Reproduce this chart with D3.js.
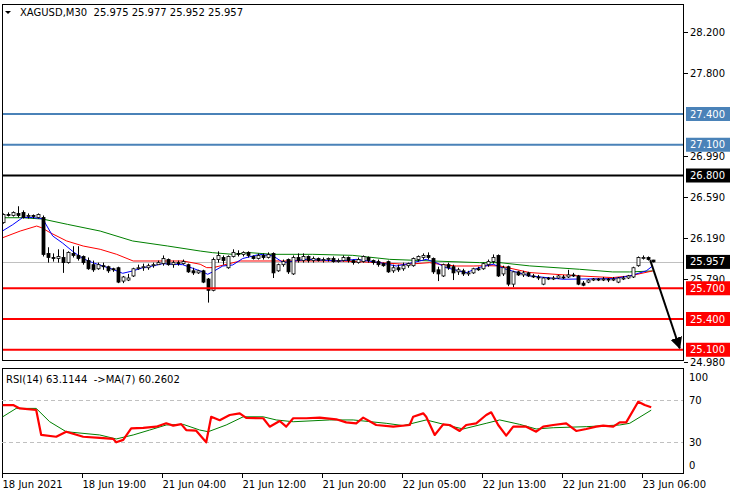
<!DOCTYPE html>
<html><head><meta charset="utf-8">
<script src="https://cdn.jsdelivr.net/npm/d3@7/dist/d3.min.js"></script>
<style>
body{margin:0;background:#fff;}
svg{display:block;font-family:"DejaVu Sans",sans-serif;font-size:10px;}
</style>
</head><body>
<svg id="chart" width="739" height="495"></svg>
<script>
// ---------------- DATA ----------------
const symbolTitle = "XAGUSD,M30";
const lastBar = [25.975, 25.977, 25.952, 25.957];

const opens = [26.34,26.42,26.41,26.43,26.44,26.40,26.41,26.39,26.39,26.04,
26.00,25.99,26.00,25.95,26.04,26.02,26.01,25.97,25.93,25.89,
25.92,25.91,25.89,25.90,25.77,25.78,25.82,25.89,25.90,25.90,
25.92,25.93,25.94,25.98,25.93,25.95,25.94,25.93,25.87,25.85,
25.87,25.79,25.68,25.98,26.00,25.90,26.01,26.04,26.03,26.05,
26.01,25.99,26.02,26.00,26.04,25.87,25.93,25.98,25.84,26.00,
25.97,26.01,25.97,25.99,25.97,25.98,25.99,25.96,25.97,26.00,
25.97,25.95,25.96,26.00,25.97,25.96,25.94,25.96,25.87,25.90,
25.89,25.92,25.92,25.98,26.00,26.02,25.99,25.88,25.82,25.93,
25.91,25.86,25.87,25.84,25.85,25.89,25.89,25.93,25.96,26.02,
25.84,25.91,25.74,25.86,25.83,25.85,25.82,25.81,25.74,25.80,
25.79,25.80,25.81,25.81,25.83,25.82,25.75,25.76,25.78,25.79,
25.78,25.79,25.78,25.76,25.79,25.80,25.81,25.92,25.99,26.00,
25.975];
const highs = [26.43,26.44,26.45,26.50,26.46,26.43,26.42,26.43,26.41,26.10,
26.04,26.08,26.08,26.06,26.11,26.11,26.02,26.00,25.97,25.95,
25.95,25.92,25.90,25.91,25.82,25.84,25.90,25.93,25.94,25.94,
25.95,25.97,26.02,25.99,25.97,25.97,25.98,25.94,25.90,25.88,
25.88,25.80,26.00,26.06,26.02,26.02,26.08,26.07,26.06,26.06,
26.02,26.04,26.04,26.05,26.05,25.94,25.98,25.99,26.02,26.04,
26.04,26.02,26.01,26.00,26.00,26.00,26.01,25.99,26.02,26.01,
25.98,26.00,26.02,26.01,25.98,25.98,25.95,25.97,25.93,25.93,
25.95,25.95,26.00,26.02,26.04,26.05,26.00,25.91,25.94,25.95,
25.93,25.90,25.89,25.87,25.90,25.91,25.95,25.98,26.03,26.03,
25.92,25.92,25.87,25.87,25.87,25.86,25.84,25.83,25.81,25.81,
25.82,25.83,25.83,25.88,25.85,25.83,25.77,25.79,25.80,25.80,
25.81,25.80,25.81,25.81,25.82,25.83,25.91,26.01,26.02,26.01,
25.977];
const lows = [26.33,26.40,26.40,26.39,26.38,26.38,26.38,26.38,26.01,25.95,
25.96,25.95,25.85,25.94,26.00,25.97,25.93,25.88,25.86,25.88,
25.88,25.85,25.86,25.75,25.75,25.77,25.81,25.88,25.87,25.88,
25.90,25.93,25.92,25.92,25.90,25.92,25.93,25.85,25.83,25.84,
25.75,25.56,25.67,25.95,25.93,25.89,26.00,26.01,26.01,26.00,
25.98,25.98,25.98,25.99,25.80,25.86,25.91,25.84,25.83,25.95,
25.95,25.95,25.95,25.96,25.95,25.96,25.95,25.95,25.96,25.95,
25.93,25.94,25.95,25.95,25.93,25.91,25.91,25.85,25.85,25.86,
25.87,25.90,25.91,25.96,25.98,25.98,25.84,25.77,25.81,25.88,
25.78,25.83,25.82,25.82,25.84,25.87,25.88,25.91,25.94,25.81,
25.82,25.72,25.71,25.82,25.81,25.81,25.80,25.78,25.73,25.78,
25.78,25.79,25.79,25.80,25.81,25.73,25.72,25.75,25.77,25.77,
25.77,25.76,25.77,25.75,25.78,25.79,25.80,25.91,25.98,25.97,
25.952];
const closes = [26.42,26.41,26.44,26.41,26.39,26.41,26.40,26.42,26.03,26.00,
25.99,26.01,25.95,26.05,26.02,25.99,25.95,25.89,25.88,25.93,
25.91,25.87,25.88,25.76,25.81,25.80,25.89,25.90,25.91,25.92,
25.93,25.95,25.99,25.93,25.95,25.94,25.96,25.86,25.85,25.87,
25.76,25.68,25.98,26.02,25.97,26.01,26.05,26.03,26.05,26.02,
25.99,26.02,26.00,26.03,25.85,25.93,25.96,25.86,26.00,25.97,
26.01,25.97,25.99,25.97,25.98,25.99,25.96,25.97,26.00,25.97,
25.95,25.98,26.01,25.97,25.95,25.93,25.92,25.86,25.90,25.88,
25.92,25.94,25.99,26.01,26.02,26.00,25.86,25.84,25.93,25.90,
25.85,25.88,25.84,25.85,25.89,25.88,25.94,25.96,26.00,25.82,
25.90,25.74,25.86,25.83,25.85,25.82,25.81,25.80,25.80,25.79,
25.80,25.82,25.80,25.83,25.82,25.74,25.73,25.78,25.79,25.78,
25.79,25.78,25.79,25.80,25.80,25.82,25.90,26.00,26.00,25.98,
25.957];

// moving averages (bar index, value)
const maBlueIdx = [0,2,4,6,8,10,12,14,16,18,20,22,24,26,28,30,32,34,36,38,40,41,42,44,46,48,51.4,54.1,56.1,60.7,67.4,70.7,75.4,78.7,82.1,84.7,86.7,88.7,92.7,95.5,98.1,100.7,105.4,112.1,122.1,125.4,128.7,130];
const maBlueVal = [26.26,26.32,26.39,26.39,26.378,26.21,26.14,26.06,25.99,25.95,25.917,25.885,25.846,25.869,25.90,25.917,25.94,25.934,25.93,25.895,25.86,25.836,25.86,25.917,25.927,25.99,26.031,26.015,25.95,25.982,25.966,25.982,25.95,25.917,25.95,25.982,25.95,25.901,25.852,25.905,25.934,25.885,25.82,25.788,25.794,25.82,25.869,25.918];
const maRedIdx = [0,3.5,6.8,7.8,9.5,12.8,16.1,19.5,22.8,26.1,29.5,32.8,36.1,39.5,40.8,42.1,44.8,47.5,54.1,60.7,67.4,75.4,80.7,85.4,87.4,90.7,94.1,96.7,99.4,105.4,115.4,122,125.4,130];
const maRedVal = [26.193,26.258,26.307,26.29,26.242,26.161,26.112,26.08,26.031,25.966,25.966,25.966,25.966,25.934,25.901,25.901,25.934,25.966,25.966,25.966,25.966,25.95,25.933,25.95,25.933,25.917,25.917,25.92,25.918,25.853,25.82,25.804,25.82,25.869];
const maGreenIdx = [0,4,8,13,19.5,26,33,39.5,42,46,49.5,54,62,70,77.4,86,95.4,99.4,105.4,115.4,122,125.4,130];
const maGreenVal = [26.388,26.388,26.375,26.323,26.258,26.161,26.112,26.063,26.047,26.031,26.047,26.031,26.031,26.021,25.982,25.966,25.95,25.95,25.918,25.885,25.859,25.859,25.869];

// RSI(14) and its MA(7) (bar index, value)
const rsiIdx = [0,2.1,3.4,6.7,7.7,10.7,12.7,16.1,19.4,22.1,22.7,24.1,25.7,28.1,30.7,32.7,34.1,35.7,36.7,38.7,40.7,41.7,43.4,45.4,47.4,48.7,52.1,53.4,55.4,56.7,58.1,60.7,63.4,66.7,68.7,70.7,72.1,74.7,78.1,81.4,82.1,84.1,84.7,86.4,88.1,89.4,91.4,92.7,94.7,96.7,97.7,99.1,100.7,102.1,104.7,106.7,108.1,110.1,112.7,114.7,116.7,118.7,120.1,122.1,123.4,124.7,127.1,128.4,129.7];
const rsiVal = [65.2,65.2,62,60.5,36.7,35,39.8,35,34,33,29.7,32,43,43.5,44.6,47.8,45.6,47,41.4,40.8,29.7,54,50.8,55.7,57.3,53,52.6,44.6,50,44.6,52.6,52.6,53.2,51.6,48.7,47.8,53.2,46.2,44.6,46.2,54.1,57.3,54.1,36.7,46.8,46.2,40.5,46.2,47.8,55.7,58.3,46.2,36,44.6,44.6,39.8,44.6,46.2,47.8,40.5,42.4,44.6,45.6,44.6,48.7,48.7,68.4,65.2,63.1];
const rsiMaIdx = [0,2.7,6.7,9.4,12.7,19.4,22.7,26.1,29.4,32.7,36.1,39.4,41.1,44.7,48.1,52.1,54.7,58.1,65.4,70.1,76.7,80.1,84.7,90.1,92.1,96.7,99.4,103.4,106.7,110.1,116.7,123.4,125.4,129.7];
const rsiMaVal = [54,62,62,49.3,39.8,36.7,32.9,36.7,41.4,46.2,46.8,41.4,39.8,46.2,54,54,51,49.3,51,51,47.8,45.6,51,44.6,42.4,47.8,51,46.8,42.4,43.6,44.6,46.2,47.8,60.3];
const rsiLabel = "RSI(14) 63.1144  ->MA(7) 60.2602";

// horizontal levels
const blueLevels = [27.400, 27.100];
const blackLevels = [26.800];
const redLevels = [25.700, 25.400, 25.100];
const currentPrice = 25.957;
const priceTicks = [28.200, 27.800, 26.990, 26.590, 26.190, 25.790, 24.980];
const rsiTicks = [100, 70, 30, 0];
const rsiLevels = [70, 30];

// time axis
const timeTickIdx = [0,16,32,48,64,80,96,112,128];
const timeTickLabels = ["18 Jun 2021","18 Jun 19:00","21 Jun 04:00","21 Jun 12:00","21 Jun 20:00","22 Jun 05:00","22 Jun 13:00","22 Jun 21:00","23 Jun 06:00"];

// forecast arrow: from (bar, price) to (bar, price)
const arrowFrom = [129.5, 25.975];
const arrowTo = [135.4, 25.115];

// ---------------- LAYOUT ----------------
const W = 739, H = 495;
const L = 2, R = 683;
const mainTop = 4, mainBot = 360;
const rsiTop = 368, rsiBot = 473;

const svg = d3.select("#chart");
const x = d3.scaleLinear().domain([0, 130]).range([2.7, 652.7]);
const y = d3.scaleLinear().domain([24.9, 28.2]).range([32 + 3.3 * 102.5, 32]);
const yr = d3.scaleLinear().domain([0, 100]).range([473.5, 368.5]);

const defs = svg.append("defs");
defs.append("clipPath").attr("id","clipMain").append("rect")
  .attr("x", L).attr("y", mainTop).attr("width", R - L).attr("height", mainBot - mainTop);
defs.append("clipPath").attr("id","clipRsi").append("rect")
  .attr("x", L).attr("y", rsiTop).attr("width", R - L).attr("height", rsiBot - rsiTop);
defs.append("marker").attr("id","arrowHead").attr("viewBox","0 0 10 10")
  .attr("refX", 9).attr("refY", 5).attr("markerWidth", 6).attr("markerHeight", 6)
  .attr("orient","auto").attr("markerUnits","strokeWidth")
  .append("path").attr("d","M0,0 L10,5 L0,10 z").attr("fill","#000");

// ---------- main panel ----------
const gMain = svg.append("g").attr("clip-path","url(#clipMain)");

// current price line
gMain.append("line").attr("x1", L).attr("x2", R)
  .attr("y1", Math.round(y(currentPrice)) + 0.5).attr("y2", Math.round(y(currentPrice)) + 0.5)
  .attr("stroke","#c0c0c0").attr("stroke-width",1);

// MAs
function maLine(idx, val, color) {
  const pts = idx.map((d, k) => [x(d), y(val[k])]);
  gMain.append("path").attr("d", d3.line()(pts))
    .attr("fill","none").attr("stroke", color).attr("stroke-width", 1);
}
maLine(maGreenIdx, maGreenVal, "#008000");
maLine(maRedIdx, maRedVal, "#ff0000");
maLine(maBlueIdx, maBlueVal, "#0000ff");

// candles
const bars = closes.map((c, i) => ({i, o: opens[i], h: highs[i], l: lows[i], c}));
const gC = gMain.append("g");
gC.selectAll("line.wick").data(bars).join("line").attr("class","wick")
  .attr("x1", d => Math.round(x(d.i)) + 0.5).attr("x2", d => Math.round(x(d.i)) + 0.5)
  .attr("y1", d => y(d.h)).attr("y2", d => y(d.l))
  .attr("stroke","#000").attr("stroke-width",1);
gC.selectAll("rect.body").data(bars).join("rect").attr("class","body")
  .attr("x", d => Math.round(x(d.i)) - 1)
  .attr("width", 3)
  .attr("y", d => Math.min(y(d.o), y(d.c)))
  .attr("height", d => Math.max(1, Math.abs(y(d.o) - y(d.c))))
  .attr("fill", d => d.c >= d.o ? "#fff" : "#000")
  .attr("stroke","#000").attr("stroke-width",0.8);

// level lines
function levels(vals, color) {
  gMain.selectAll(null).data(vals).join("line")
    .attr("x1", L).attr("x2", R)
    .attr("y1", d => y(d)).attr("y2", d => y(d))
    .attr("stroke", color).attr("stroke-width", 2);
}
levels(blueLevels, "#4a82b8");
levels(blackLevels, "#000");
levels(redLevels, "#ff0000");

// arrow
svg.append("line")
  .attr("x1", x(arrowFrom[0])).attr("y1", y(arrowFrom[1]))
  .attr("x2", x(arrowTo[0])).attr("y2", y(arrowTo[1]))
  .attr("stroke","#000").attr("stroke-width",2)
  .attr("marker-end","url(#arrowHead)");

// title
svg.append("path").attr("d","M5,11 L11,11 L8,14 z").attr("fill","#000");
svg.append("text").attr("x", 20).attr("y", 16).style("white-space","pre")
  .text(symbolTitle + "  " + lastBar.map(v => v.toFixed(3)).join(" "));

// frames
svg.append("rect").attr("x", L + 0.5).attr("y", mainTop + 0.5)
  .attr("width", R - L).attr("height", mainBot - mainTop)
  .attr("fill","none").attr("stroke","#000");
svg.append("rect").attr("x", L + 0.5).attr("y", rsiTop + 0.5)
  .attr("width", R - L).attr("height", rsiBot - rsiTop)
  .attr("fill","none").attr("stroke","#000");

// price axis ticks and labels
const gAx = svg.append("g");
priceTicks.forEach(v => {
  const yy = Math.round(y(v)) + 0.5;
  gAx.append("line").attr("x1", R + 1).attr("x2", R + 5).attr("y1", yy).attr("y2", yy).attr("stroke","#000");
  gAx.append("text").attr("x", 690).attr("y", yy).attr("dy","0.35em").text(v.toFixed(3));
});

// price label boxes
function priceBox(v, bg) {
  const yy = y(v);
  gAx.append("rect").attr("x", 686).attr("y", yy - 7).attr("width", 44).attr("height", 14).attr("fill", bg);
  gAx.append("text").attr("x", 690).attr("y", yy).attr("dy","0.35em").attr("fill","#fff").text(v.toFixed(3));
}
blueLevels.forEach(v => priceBox(v, "#4a82b8"));
blackLevels.forEach(v => priceBox(v, "#000"));
priceBox(currentPrice, "#000");
redLevels.forEach(v => priceBox(v, "#ff0000"));

// ---------- RSI panel ----------
const gR = svg.append("g").attr("clip-path","url(#clipRsi)");
gR.selectAll(null).data(rsiLevels).join("line")
  .attr("x1", L).attr("x2", R)
  .attr("y1", d => Math.round(yr(d)) + 0.5).attr("y2", d => Math.round(yr(d)) + 0.5)
  .attr("stroke","#c0c0c0").attr("stroke-dasharray","4,3");
gR.append("path").attr("d", d3.line()(rsiMaIdx.map((d, k) => [x(d), yr(rsiMaVal[k])])))
  .attr("fill","none").attr("stroke","#008000").attr("stroke-width",1);
gR.append("path").attr("d", d3.line()(rsiIdx.map((d, k) => [x(d), yr(rsiVal[k])])))
  .attr("fill","none").attr("stroke","#ff0000").attr("stroke-width",2.2).attr("stroke-linejoin","round");

svg.append("text").attr("x", 6).attr("y", 383).style("white-space","pre").text(rsiLabel);

rsiTicks.forEach(v => {
  let yy = yr(v);
  if (v === 100) yy += 8.5;
  if (v === 0) yy -= 8.5;
  svg.append("text").attr("x", 689).attr("y", yy).attr("dy","0.35em").text(v);
});

// ---------- time axis ----------
timeTickIdx.forEach((t, k) => {
  const xx = Math.round(x(t)) - 0.5;
  svg.append("line").attr("x1", xx).attr("x2", xx).attr("y1", rsiBot).attr("y2", rsiBot + 5).attr("stroke","#000");
  svg.append("text").attr("x", xx).attr("y", 488).text(timeTickLabels[k]);
});
</script>
</body></html>
